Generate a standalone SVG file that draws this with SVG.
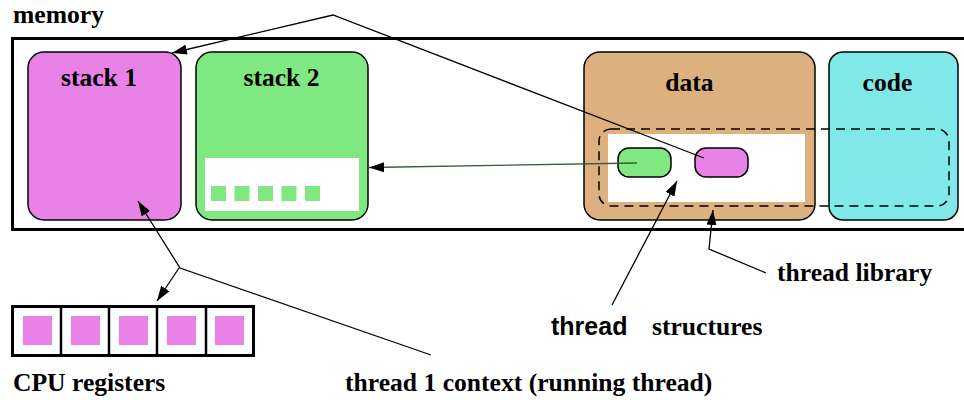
<svg xmlns="http://www.w3.org/2000/svg" width="964" height="400" viewBox="0 0 964 400">
<style>
.t{font-family:"Liberation Serif","Times New Roman",serif;font-weight:bold;font-size:25.6px;fill:#000}
.s{font-family:"Liberation Sans",Arial,sans-serif;font-weight:bold;font-size:25px;fill:#000}
.box{stroke:#000;stroke-width:1.5}
.ln{fill:none;stroke:#000;stroke-width:1.3}
</style>
<defs>
<marker id="ah" markerUnits="userSpaceOnUse" markerWidth="16" markerHeight="10" refX="15" refY="5" orient="auto">
<path d="M0,0 L15,5 L0,10 z" fill="#000"/>
</marker>
</defs>
<rect width="964" height="400" fill="#fff"/>
<g id="memory">
<rect x="12.5" y="38.5" width="970" height="191" fill="#fff" stroke="#000" stroke-width="3"/>
<text class="t" x="13" y="23">memory</text>
</g>
<g id="stack1">
<rect class="box" x="28" y="52" width="153" height="168" rx="16" fill="#e882e6"/>
<text class="t" x="99" y="86" text-anchor="middle">stack 1</text>
</g>
<g id="stack2">
<rect class="box" x="196" y="52" width="172" height="168" rx="16" fill="#80e880"/>
<text class="t" x="281.5" y="86" text-anchor="middle">stack 2</text>
<rect x="205" y="158" width="154" height="53" fill="#fff"/>
<g fill="#80e880">
<rect x="211" y="186" width="15" height="15"/>
<rect x="234.5" y="186" width="15" height="15"/>
<rect x="258" y="186" width="15" height="15"/>
<rect x="281.5" y="186" width="15" height="15"/>
<rect x="305" y="186" width="15" height="15"/>
</g>
</g>
<g id="data">
<rect class="box" x="584" y="52" width="231" height="168" rx="16" fill="#dcb07f"/>
<text class="t" x="689.5" y="91" text-anchor="middle">data</text>
<rect x="608" y="134" width="197" height="68" fill="#fff"/>
</g>
<g id="code">
<rect class="box" x="829" y="52" width="129" height="168" rx="14" fill="#80e8e8"/>
<text class="t" x="887.5" y="91" text-anchor="middle">code</text>
</g>
<g id="thread-struct-green">
<rect class="box" x="618" y="148" width="53" height="29" rx="11" fill="#80e880"/>
</g>
<g id="thread-struct-pink">
<rect class="box" x="695" y="148" width="53" height="29" rx="11" fill="#e882e6"/>
</g>
<g id="thread-library">
<rect x="599" y="129" width="350" height="77" rx="12" fill="none" stroke="#000" stroke-width="1.5" stroke-dasharray="9,6"/>
</g>
<g id="registers">
<rect x="12.5" y="306.5" width="241" height="49" fill="#fff" stroke="#000" stroke-width="3"/>
<g stroke="#000" stroke-width="2.5">
<line x1="61" y1="306" x2="61" y2="356"/>
<line x1="109" y1="306" x2="109" y2="356"/>
<line x1="157" y1="306" x2="157" y2="356"/>
<line x1="206" y1="306" x2="206" y2="356"/>
</g>
<g fill="#e882e6">
<rect x="23" y="316" width="29" height="29"/>
<rect x="71" y="316" width="29" height="29"/>
<rect x="119" y="316" width="29" height="29"/>
<rect x="167" y="316" width="29" height="29"/>
<rect x="215" y="316" width="29" height="29"/>
</g>
</g>
<g id="connectors">
<polyline class="ln" points="704,158 333,15 172,53" marker-end="url(#ah)"/>
<line x1="637" y1="163" x2="369" y2="167.5" stroke="#3a5a3a" stroke-width="1.3" marker-end="url(#ah)"/>
<line class="ln" x1="612" y1="305" x2="677" y2="181" marker-end="url(#ah)"/>
<polyline class="ln" points="766,273 709,249 713,210" marker-end="url(#ah)"/>
<polyline class="ln" points="431,355 180,268 138,201" marker-end="url(#ah)"/>
<line class="ln" x1="179" y1="268" x2="157" y2="301" marker-end="url(#ah)"/>
</g>
<g id="labels">
<text class="t" x="13" y="391">CPU registers</text>
<text class="t" x="345" y="391">thread 1 context (running thread)</text>
<text class="t" x="777" y="281">thread library</text>
<text class="s" x="551" y="335">thread</text>
<text class="t" x="652" y="335">structures</text>
</g>
</svg>
